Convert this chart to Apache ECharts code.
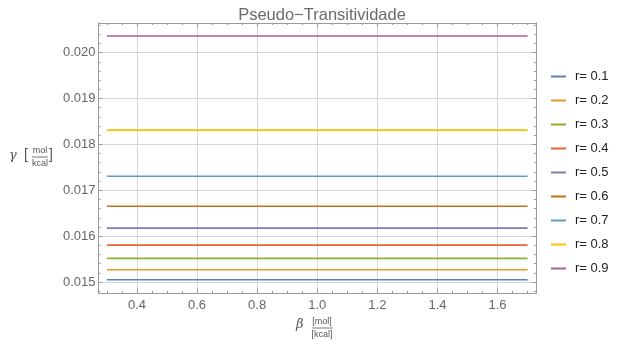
<!DOCTYPE html>
<html>
<head>
<meta charset="utf-8">
<script src="https://cdn.jsdelivr.net/npm/echarts@6/dist/echarts.min.js"></script>
<style>
  html, body { margin: 0; padding: 0; background: #fff; }
  #chart { width: 626px; height: 347px; }
</style>
</head>
<body>
<div id="chart"></div>
<script>
// Ratios r and the constant gamma value of each curve over beta
const seriesNames = ['r= 0.1', 'r= 0.2', 'r= 0.3', 'r= 0.4', 'r= 0.5', 'r= 0.6', 'r= 0.7', 'r= 0.8', 'r= 0.9'];
const gammaValues = [0.01505, 0.015267, 0.015515, 0.015804, 0.016174, 0.016652, 0.017304, 0.018311, 0.020363];
const betaRange = [0.3, 1.7];
const seriesColors = ['#5E81B5', '#E19C24', '#8FB032', '#EB6235', '#8778B3', '#C56E1A', '#5D9EC7', '#FFBF00', '#A5609D'];

// Axis ticks
const xMajorTicks = [0.4, 0.6, 0.8, 1.0, 1.2, 1.4, 1.6];
const xMinorTicks = [0.3, 0.35, 0.45, 0.5, 0.55, 0.65, 0.7, 0.75, 0.85, 0.9, 0.95, 1.05, 1.1, 1.15, 1.25, 1.3, 1.35, 1.45, 1.5, 1.55, 1.65, 1.7];
const yMajorTicks = [0.015, 0.016, 0.017, 0.018, 0.019, 0.020];
const yMinorTicks = [0.0148, 0.0152, 0.0154, 0.0156, 0.0158, 0.0162, 0.0164, 0.0166, 0.0168, 0.0172, 0.0174, 0.0176, 0.0178, 0.0182, 0.0184, 0.0186, 0.0188, 0.0192, 0.0194, 0.0196, 0.0198, 0.0202, 0.0204, 0.0206];

const xMin = 0.272, xMax = 1.728;
const yMin = 0.01476, yMax = 0.020645;

const frameColor = '#9a9a9a';
const labelColor = '#666';

function xAxisDef(position, ticks, len, showLabels, showGrid) {
  return {
    type: 'value', position: position, min: xMin, max: xMax,
    axisLine: { show: true, onZero: false, lineStyle: { color: frameColor, width: 1 } },
    axisTick: { show: true, inside: true, length: len, customValues: ticks, lineStyle: { color: frameColor } },
    axisLabel: { show: showLabels, customValues: ticks, color: labelColor, fontSize: 13, fontFamily: 'Liberation Sans', margin: 6,
                 formatter: v => v.toFixed(1) },
    splitLine: { show: showGrid, lineStyle: { color: '#d6d6d6', width: 1 } }
  };
}
function yAxisDef(position, ticks, len, showLabels, showGrid) {
  return {
    type: 'value', position: position, min: yMin, max: yMax,
    axisLine: { show: true, onZero: false, lineStyle: { color: frameColor, width: 1 } },
    axisTick: { show: true, inside: true, length: len, customValues: ticks, lineStyle: { color: frameColor } },
    axisLabel: { show: showLabels, customValues: ticks, color: labelColor, fontSize: 13, fontFamily: 'Liberation Sans', margin: 3,
                 formatter: v => v.toFixed(3) },
    splitLine: { show: showGrid, lineStyle: { color: '#d6d6d6', width: 1 } }
  };
}

const chart = echarts.init(document.getElementById('chart'), null, { renderer: 'canvas' });

const series = seriesNames.map((name, i) => ({
  name: name,
  type: 'line',
  xAxisIndex: 0,
  yAxisIndex: 0,
  symbol: 'none',
  silent: true,
  lineStyle: { color: seriesColors[i], width: 1.6 },
  itemStyle: { color: seriesColors[i] },
  data: [[betaRange[0], gammaValues[i]], [betaRange[1], gammaValues[i]]]
}));

chart.setOption({
  animation: false,
  backgroundColor: '#fff',
  title: {
    text: 'Pseudo\u2212Transitividade',
    left: 317, top: 2, textAlign: 'center',
    textStyle: { color: '#6b6b6b', fontSize: 16.5, fontWeight: 'normal', fontFamily: 'Liberation Sans' }
  },
  grid: { left: 98.5, right: 90, top: 23, bottom: 54, containLabel: false },
  xAxis: [
    xAxisDef('bottom', xMajorTicks, 4, true, true),
    xAxisDef('bottom', xMinorTicks, 2, false, false),
    xAxisDef('top', xMajorTicks, 4, false, false),
    xAxisDef('top', xMinorTicks, 2, false, false)
  ],
  yAxis: [
    yAxisDef('left', yMajorTicks, 4, true, true),
    yAxisDef('left', yMinorTicks, 2, false, false),
    yAxisDef('right', yMajorTicks, 4, false, false),
    yAxisDef('right', yMinorTicks, 2, false, false)
  ],
  legend: {
    orient: 'vertical',
    left: 546, top: 64,
    icon: 'rect',
    itemWidth: 15, itemHeight: 2, itemGap: 9,
    selectedMode: false,
    textStyle: { color: '#222', fontSize: 13, lineHeight: 15, fontFamily: 'Liberation Sans', padding: [0, 0, 0, 4] },
    data: seriesNames
  },
  graphic: [
    // vertical axis label: gamma [mol / kcal]
    { type: 'text', left: 9, top: 149, style: { text: '\u03B3', font: 'italic 13px "DejaVu Serif"', fill: '#555' } },
    { type: 'text', left: 24, top: 148, style: { text: '[', font: '14px "Liberation Sans"', fill: '#555' } },
    { type: 'text', x: 40, y: 151, style: { text: 'mol', font: '9px "Liberation Sans"', fill: '#555', align: 'center', verticalAlign: 'middle' } },
    { type: 'line', shape: { x1: 32, y1: 157, x2: 48, y2: 157 }, style: { stroke: '#555', lineWidth: 0.8 } },
    { type: 'text', x: 40, y: 164, style: { text: 'kcal', font: '9px "Liberation Sans"', fill: '#555', align: 'center', verticalAlign: 'middle' } },
    { type: 'text', left: 49, top: 148, style: { text: ']', font: '14px "Liberation Sans"', fill: '#555' } },
    // horizontal axis label: beta [mol] / [kcal]
    { type: 'text', left: 296, top: 318, style: { text: '\u03B2', font: 'italic 13px "DejaVu Serif"', fill: '#555' } },
    { type: 'text', x: 322, y: 322, style: { text: '[mol]', font: '9px "Liberation Sans"', fill: '#555', align: 'center', verticalAlign: 'middle' } },
    { type: 'line', shape: { x1: 312, y1: 328, x2: 333, y2: 328 }, style: { stroke: '#555', lineWidth: 0.8 } },
    { type: 'text', x: 322, y: 335, style: { text: '[kcal]', font: '9px "Liberation Sans"', fill: '#555', align: 'center', verticalAlign: 'middle' } }
  ],
  series: series
});
</script>
</body>
</html>
